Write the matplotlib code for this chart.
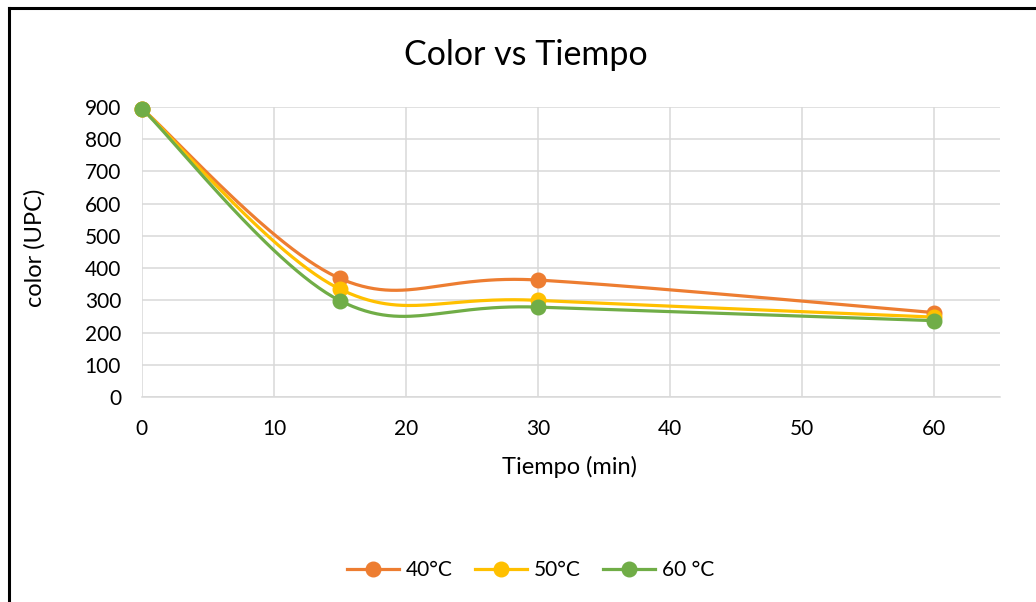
import numpy as np
import matplotlib.pyplot as plt
from matplotlib.lines import Line2D

plt.rcParams['font.family'] = ['Lato', 'DejaVu Sans']

# muestreo (min) y color medido (UPC) a cada temperatura
tiempo = [0, 15, 30, 60]
color_40 = [895, 368, 363, 262]
color_50 = [895, 335, 300, 248]
color_60 = [895, 299, 279, 237]
series = [
    ('40°C', color_40, '#ED7D31'),
    ('50°C', color_50, '#FFC000'),
    ('60 °C', color_60, '#70AD47'),
]


def smooth(x, y, n=60):
    """Curva suavizada tipo Bezier (Catmull-Rom) que pasa por los puntos."""
    p = np.column_stack([x, y]).astype(float)
    ext = np.vstack([p[0], p, p[-1]])
    t = np.linspace(0, 1, n)[:, None]
    out = []
    for i in range(len(p) - 1):
        p0, p3 = ext[i + 1], ext[i + 2]
        p1 = p0 + (ext[i + 2] - ext[i]) / 6
        p2 = p3 - (ext[i + 3] - ext[i + 1]) / 6
        seg = ((1 - t) ** 3) * p0 + 3 * ((1 - t) ** 2) * t * p1 \
            + 3 * (1 - t) * t ** 2 * p2 + t ** 3 * p3
        out.append(seg)
    c = np.vstack(out)
    return c[:, 0], c[:, 1]


fig = plt.figure(figsize=(10.36, 6.02), dpi=100)
ax = fig.add_axes([0.137, 0.3405, 0.828, 0.4818])

for name, vals, col in series:
    xs, ys = smooth(tiempo, vals)
    ax.plot(xs, ys, color=col, lw=2.3, solid_capstyle='round', zorder=3,
            clip_on=False)
    ax.plot(tiempo, vals, 'o', color=col, ms=10.5, zorder=3, clip_on=False)

ax.set_xlim(0, 65)
ax.set_ylim(0, 900)
ax.set_xticks(range(0, 61, 10))
ax.set_yticks(range(0, 901, 100))
ax.grid(True, color='#D9D9D9', lw=1.1)
ax.set_axisbelow(True)
for s in ['top', 'right', 'left']:
    ax.spines[s].set_visible(False)
ax.spines['bottom'].set_color('#D9D9D9')
ax.spines['bottom'].set_linewidth(1.1)
ax.tick_params(length=0, labelsize=15, colors='#000000')
ax.tick_params(axis='x', pad=16)
ax.tick_params(axis='y', pad=15)

fig.text(0.550, 1 - 467 / 602, 'Tiempo (min)', fontsize=17,
         ha='center', va='center')
fig.text(0.034, 0.588, 'color (UPC)', fontsize=17, rotation=90,
         ha='center', va='center')
fig.text(0.508, 0.909, 'Color vs Tiempo', fontsize=24.5,
         ha='center', va='center')

handles = [Line2D([], [], color=col, lw=2.3, marker='o', ms=10.5)
           for _, _, col in series]
fig.legend(handles, [s[0] for s in series], loc='center',
           bbox_to_anchor=(0.512, 0.053), ncol=3, frameon=False,
           fontsize=15, handlelength=2.5, columnspacing=1.1, handletextpad=0.3)

# marco del area del grafico
fig.add_artist(Line2D([0.0087, 0.0087], [0, 0.986], color='black', lw=2.2,
                      transform=fig.transFigure))
fig.add_artist(Line2D([0.0087, 1.0], [0.986, 0.986], color='black', lw=2.2,
                      transform=fig.transFigure))

fig.savefig('out.png', dpi=100)
